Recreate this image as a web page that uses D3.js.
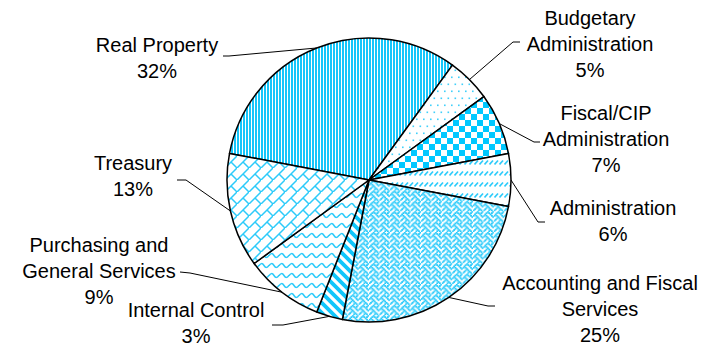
<!DOCTYPE html>
<html>
<head>
<meta charset="utf-8">
<script src="https://cdn.jsdelivr.net/npm/d3@7"></script>
<style>
  html, body { margin: 0; padding: 0; background: #ffffff; }
  svg { display: block; }
  text { font-family: "Liberation Sans", Arial, sans-serif; font-size: 20px; fill: #000; }
</style>
</head>
<body>
<svg id="chart" width="709" height="346"></svg>
<script>
// Budget share by division, listed clockwise starting with Real Property
const categories = [
  "Real Property",
  "Budgetary Administration",
  "Fiscal/CIP Administration",
  "Administration",
  "Accounting and Fiscal Services",
  "Internal Control",
  "Purchasing and General Services",
  "Treasury"
];
const shares = [32, 5, 7, 6, 25, 3, 9, 13];
const percentLabels = ["32%", "5%", "7%", "6%", "25%", "3%", "9%", "13%"];

// Label text split into lines
const labelLines = [
  ["Real Property"],
  ["Budgetary", "Administration"],
  ["Fiscal/CIP", "Administration"],
  ["Administration"],
  ["Accounting and Fiscal", "Services"],
  ["Internal Control"],
  ["Purchasing and", "General Services"],
  ["Treasury"]
];

// Label placement: text centre x, first baseline y, and the two points of the leader line near the label
const labelLayout = [
  { x: 157, y: 52,  lead: [[223, 56], [229, 56]] },
  { x: 590, y: 25,  lead: [[520, 42], [513, 42]] },
  { x: 606, y: 120, lead: [[540, 142], [534, 142]] },
  { x: 613, y: 215, lead: [[545, 222], [538, 222]] },
  { x: 600, y: 290, lead: [[495, 306], [488, 306]] },
  { x: 196, y: 317, lead: [[272, 325], [283, 325]] },
  { x: 99,  y: 252, lead: [[180, 272], [190, 273]] },
  { x: 133, y: 170, lead: [[177, 180], [186, 180]] }
];

const cx = 369, cy = 180, radius = 142;
const lineHeight = 26;
const ink = "#22c9fb";
const startDeg = 36 - 360 * shares[0] / 100;

const svg = d3.select("#chart");
const defs = svg.append("defs");

// ---- fill patterns ----
function makePattern(id, w, h, draw) {
  const p = defs.append("pattern")
    .attr("id", id)
    .attr("patternUnits", "userSpaceOnUse")
    .attr("width", w).attr("height", h);
  p.append("rect").attr("width", w).attr("height", h).attr("fill", "#ffffff");
  draw(p);
}
function bitmapPattern(id, rows, px, dot) {
  makePattern(id, 8 * px, 8 * px, p => {
    rows.forEach((bits, r) => {
      for (let c = 0; c < 8; c++) {
        if (bits & (0x80 >> c)) {
          p.append("rect")
            .attr("x", c * px - (dot - px) / 2).attr("y", r * px - (dot - px) / 2)
            .attr("width", dot).attr("height", dot).attr("fill", ink);
        }
      }
    });
  });
}

// vertical stripes
makePattern("pVert", 3, 3, p => {
  p.append("rect").attr("width", 2).attr("height", 3).attr("fill", "#16c6fa");
});
// sparse dots
makePattern("pDots", 7, 14, p => {
  p.append("rect").attr("x", 1.5).attr("y", 1.5).attr("width", 1.6).attr("height", 1.6).attr("fill", "#3fd0fb");
  p.append("rect").attr("x", 5).attr("y", 8.5).attr("width", 1.6).attr("height", 1.6).attr("fill", "#3fd0fb");
});
// large checkerboard
makePattern("pCheck", 12, 12, p => {
  p.append("rect").attr("x", 0).attr("y", 0).attr("width", 6).attr("height", 6).attr("fill", "#00c8ff");
  p.append("rect").attr("x", 6).attr("y", 6).attr("width", 6).attr("height", 6).attr("fill", "#00c8ff");
});
// dashed upward diagonal
makePattern("pDash", 5, 11, p => {
  p.append("path").attr("d", "M0.5,6.5 L4,2.5").attr("stroke", "#2ccbfa").attr("stroke-width", 1.6).attr("fill", "none");
});
// weave
bitmapPattern("pWeave", [0x11, 0x2a, 0x44, 0xa2, 0x11, 0x28, 0x44, 0x8a], 1.3, 1.8);
// wide downward diagonal
makePattern("pWide", 10, 10, p => {
  p.append("path").attr("d", "M-2,-2 L12,12 M-2,8 L2,12 M8,-2 L12,2")
    .attr("stroke", "#10c6fb").attr("stroke-width", 3.8).attr("fill", "none");
});
// wave
makePattern("pWave", 10, 10, p => {
  p.append("path").attr("d", "M0,6 Q2.5,1.5 5,5.5 T10,5")
    .attr("stroke", "#2ccbfa").attr("stroke-width", 1.5).attr("fill", "none");
});
// diagonal brick
makePattern("pBrick", 12, 12, p => {
  p.append("path").attr("d", "M0,12 L12,0 M6,6 L12,12 M-1,11 L1,13")
    .attr("stroke", "#2ccbfa").attr("stroke-width", 1.5).attr("fill", "none");
});

const fills = ["pVert", "pDots", "pCheck", "pDash", "pWeave", "pWide", "pWave", "pBrick"];

// ---- pie ----
const data = categories.map((c, i) => ({ name: c, value: shares[i], i }));
const pie = d3.pie()
  .sort(null)
  .value(d => d.value)
  .startAngle(startDeg * Math.PI / 180)
  .endAngle((startDeg + 360) * Math.PI / 180);
const arcs = pie(data);
const arc = d3.arc().innerRadius(0).outerRadius(radius);

const g = svg.append("g").attr("transform", `translate(${cx},${cy})`);
g.selectAll("path.slice")
  .data(arcs)
  .join("path")
  .attr("class", "slice")
  .attr("d", arc)
  .attr("fill", d => `url(#${fills[d.data.i]})`)
  .attr("stroke", "#000")
  .attr("stroke-width", 1.5)
  .attr("stroke-linejoin", "round");

// ---- leader lines ----
const line = d3.line();
arcs.forEach(a => {
  const mid = (a.startAngle + a.endAngle) / 2;
  const edge = [cx + radius * Math.sin(mid), cy - radius * Math.cos(mid)];
  const L = labelLayout[a.data.i];
  svg.append("path")
    .attr("d", line([L.lead[0], L.lead[1], edge]))
    .attr("fill", "none")
    .attr("stroke", "#000")
    .attr("stroke-width", 1);
});

// ---- labels ----
arcs.forEach(a => {
  const i = a.data.i;
  const L = labelLayout[i];
  const t = svg.append("text").attr("text-anchor", "middle");
  const lines = labelLines[i].concat([percentLabels[i]]);
  lines.forEach((s, k) => {
    t.append("tspan").attr("x", L.x).attr("y", L.y + k * lineHeight).text(s);
  });
});
</script>
</body>
</html>
